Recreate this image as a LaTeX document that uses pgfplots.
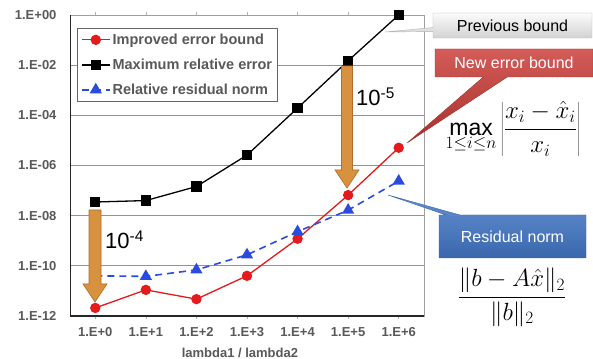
\documentclass[border=0pt]{standalone}
\usepackage{pgfplots}
\pgfplotsset{compat=1.18}
\usepackage{fontspec}
\setmainfont{Liberation Sans}
\usetikzlibrary{shapes.callouts,calc}
\definecolor{tickgray}{HTML}{595959}
\definecolor{myred}{HTML}{E41A1C}
\definecolor{myblue}{HTML}{2B4BE0}
\definecolor{arrowfill}{HTML}{D8913F}
\definecolor{arrowdraw}{HTML}{B06E28}
\begin{document}
\begin{tikzpicture}
\path[use as bounding box] (0,0) rectangle (593pt,358pt);
\begin{axis}[
  at={(70pt,42pt)}, anchor=south west,
  scale only axis, width=354pt, height=301pt,
  xmin=-0.5, xmax=6.5,
  ymode=log, ymin=1e-12, ymax=1,
  xtick={0,1,2,3,4,5,6},
  xticklabels={1.E+0,1.E+1,1.E+2,1.E+3,1.E+4,1.E+5,1.E+6},
  ytick={1e-12,1e-10,1e-8,1e-6,1e-4,1e-2,1},
  yticklabels={1.E-12,1.E-10,1.E-08,1.E-06,1.E-04,1.E-02,1.E+00},
  yminorticks=false,
  ymajorgrids,
  major grid style={draw=gray!85, line width=0.8pt},
  axis line style={draw=gray!75, line width=0.8pt},
  xtick style={draw=gray!60, line width=0.6pt},
  ytick style={draw=none},
  major tick length=3pt, tick align=outside,
  tick label style={font=\bfseries\fontsize{13}{15}\selectfont, text=tickgray},
  xticklabel style={yshift=-5pt},
  yticklabel style={xshift=-7pt},
  xlabel={lambda1 / lambda2},
  xlabel style={at={(axis description cs:0.48,0)}, anchor=base, yshift=-41.5pt, font=\bfseries\fontsize{13}{15}\selectfont, text=tickgray},
  legend style={at={(0.02,0.957)}, anchor=north west, draw=gray!80!black, line width=0.8pt, fill=white,
    font=\bfseries\fontsize{14.5}{17}\selectfont, text=tickgray, row sep=9pt, inner sep=3.5pt,
    nodes={inner sep=2pt}},
  legend cell align=left,
  legend image code/.code={\draw[mark repeat=2,mark phase=2] plot coordinates {(0pt,0pt)(14pt,0pt)(28pt,0pt)};},
]
\addplot[myred, line width=1.3pt, mark=*, mark size=4.5pt, mark options={solid, fill=myred}]
  coordinates {(0,2.1e-12)(1,1.1e-11)(2,4.7e-12)(3,4e-11)(4,1.2e-9)(5,6.6e-8)(6,5.1e-6)};
\addlegendentry{Improved error bound}
\addplot[black, line width=1.3pt, mark=square*, mark size=4.5pt, mark options={solid, fill=black}]
  coordinates {(0,3.5e-8)(1,4e-8)(2,1.45e-7)(3,2.6e-6)(4,1.95e-4)(5,1.5e-2)(6,1)};
\addlegendentry{Maximum relative error}
\addplot[myblue, line width=1.6pt, dash pattern=on 7pt off 5pt, mark=triangle*, mark size=5.5pt, mark options={solid, fill=myblue}]
  coordinates {(0,4e-11)(1,3.8e-11)(2,6.9e-11)(3,2.75e-10)(4,2.3e-9)(5,1.66e-8)(6,2.4e-7)};
\addlegendentry{Relative residual norm}
\draw[black!85, line width=1.8pt] (rel axis cs:0,1) -- (rel axis cs:0,0) -- (rel axis cs:1,0);
\end{axis}
% arrows
\filldraw[fill=arrowfill, draw=arrowdraw, line width=0.6pt]
  (89pt,148pt) -- (101pt,148pt) -- (101pt,74pt) -- (107pt,74pt) -- (95pt,56pt) -- (83pt,74pt) -- (89pt,74pt) -- cycle;
\filldraw[fill=arrowfill, draw=arrowdraw, line width=0.6pt]
  (341.5pt,292pt) -- (352.5pt,292pt) -- (352.5pt,188pt) -- (359pt,188pt) -- (347pt,170pt) -- (335pt,188pt) -- (341.5pt,188pt) -- cycle;
\node[anchor=west, font=\fontsize{22}{24}\selectfont, inner sep=0pt] at (105pt,118pt) {10\textsuperscript{-4}};
\node[anchor=west, font=\fontsize{22}{24}\selectfont, inner sep=0pt] at (356pt,261pt) {10\textsuperscript{-5}};
% callouts
\node[rectangle callout, callout absolute pointer={(385pt,326pt)}, callout pointer width=4pt,
  top color=gray!3, bottom color=gray!35, draw=gray!60, minimum width=159pt, minimum height=25pt,
  font=\fontsize{16}{18}\selectfont, text=black] at (512.5pt,332.5pt) {Previous bound};
\node[rectangle callout, callout absolute pointer={(407pt,215pt)}, callout pointer width=24pt,
  top color={rgb,255:red,212;green,92;blue,88}, bottom color={rgb,255:red,168;green,48;blue,44}, draw={rgb,255:red,160;green,50;blue,45},
  minimum width=158pt, minimum height=28pt,
  font=\fontsize{16}{18}\selectfont, text=white] at (514pt,295pt) {New error bound};
\node[rectangle callout, callout absolute pointer={(388pt,163pt)}, callout pointer width=14pt,
  top color={rgb,255:red,100;green,145;blue,210}, bottom color={rgb,255:red,58;green,102;blue,172}, draw={rgb,255:red,60;green,100;blue,165},
  minimum width=147pt, minimum height=43pt,
  font=\fontsize{16}{18}\selectfont, text=white] at (512.5pt,121.5pt) {Residual norm};
% formulas
\node[font=\fontsize{23}{27}\selectfont] at (513pt,229pt) {$\displaystyle\max_{1\le i\le n}\left|\frac{x_i-\hat{x}_i}{x_i}\right|$};
\node[font=\fontsize{23}{27}\selectfont] at (512pt,61pt) {$\displaystyle\frac{\|b-A\hat{x}\|_2}{\|b\|_2}$};
\end{tikzpicture}
\end{document}
